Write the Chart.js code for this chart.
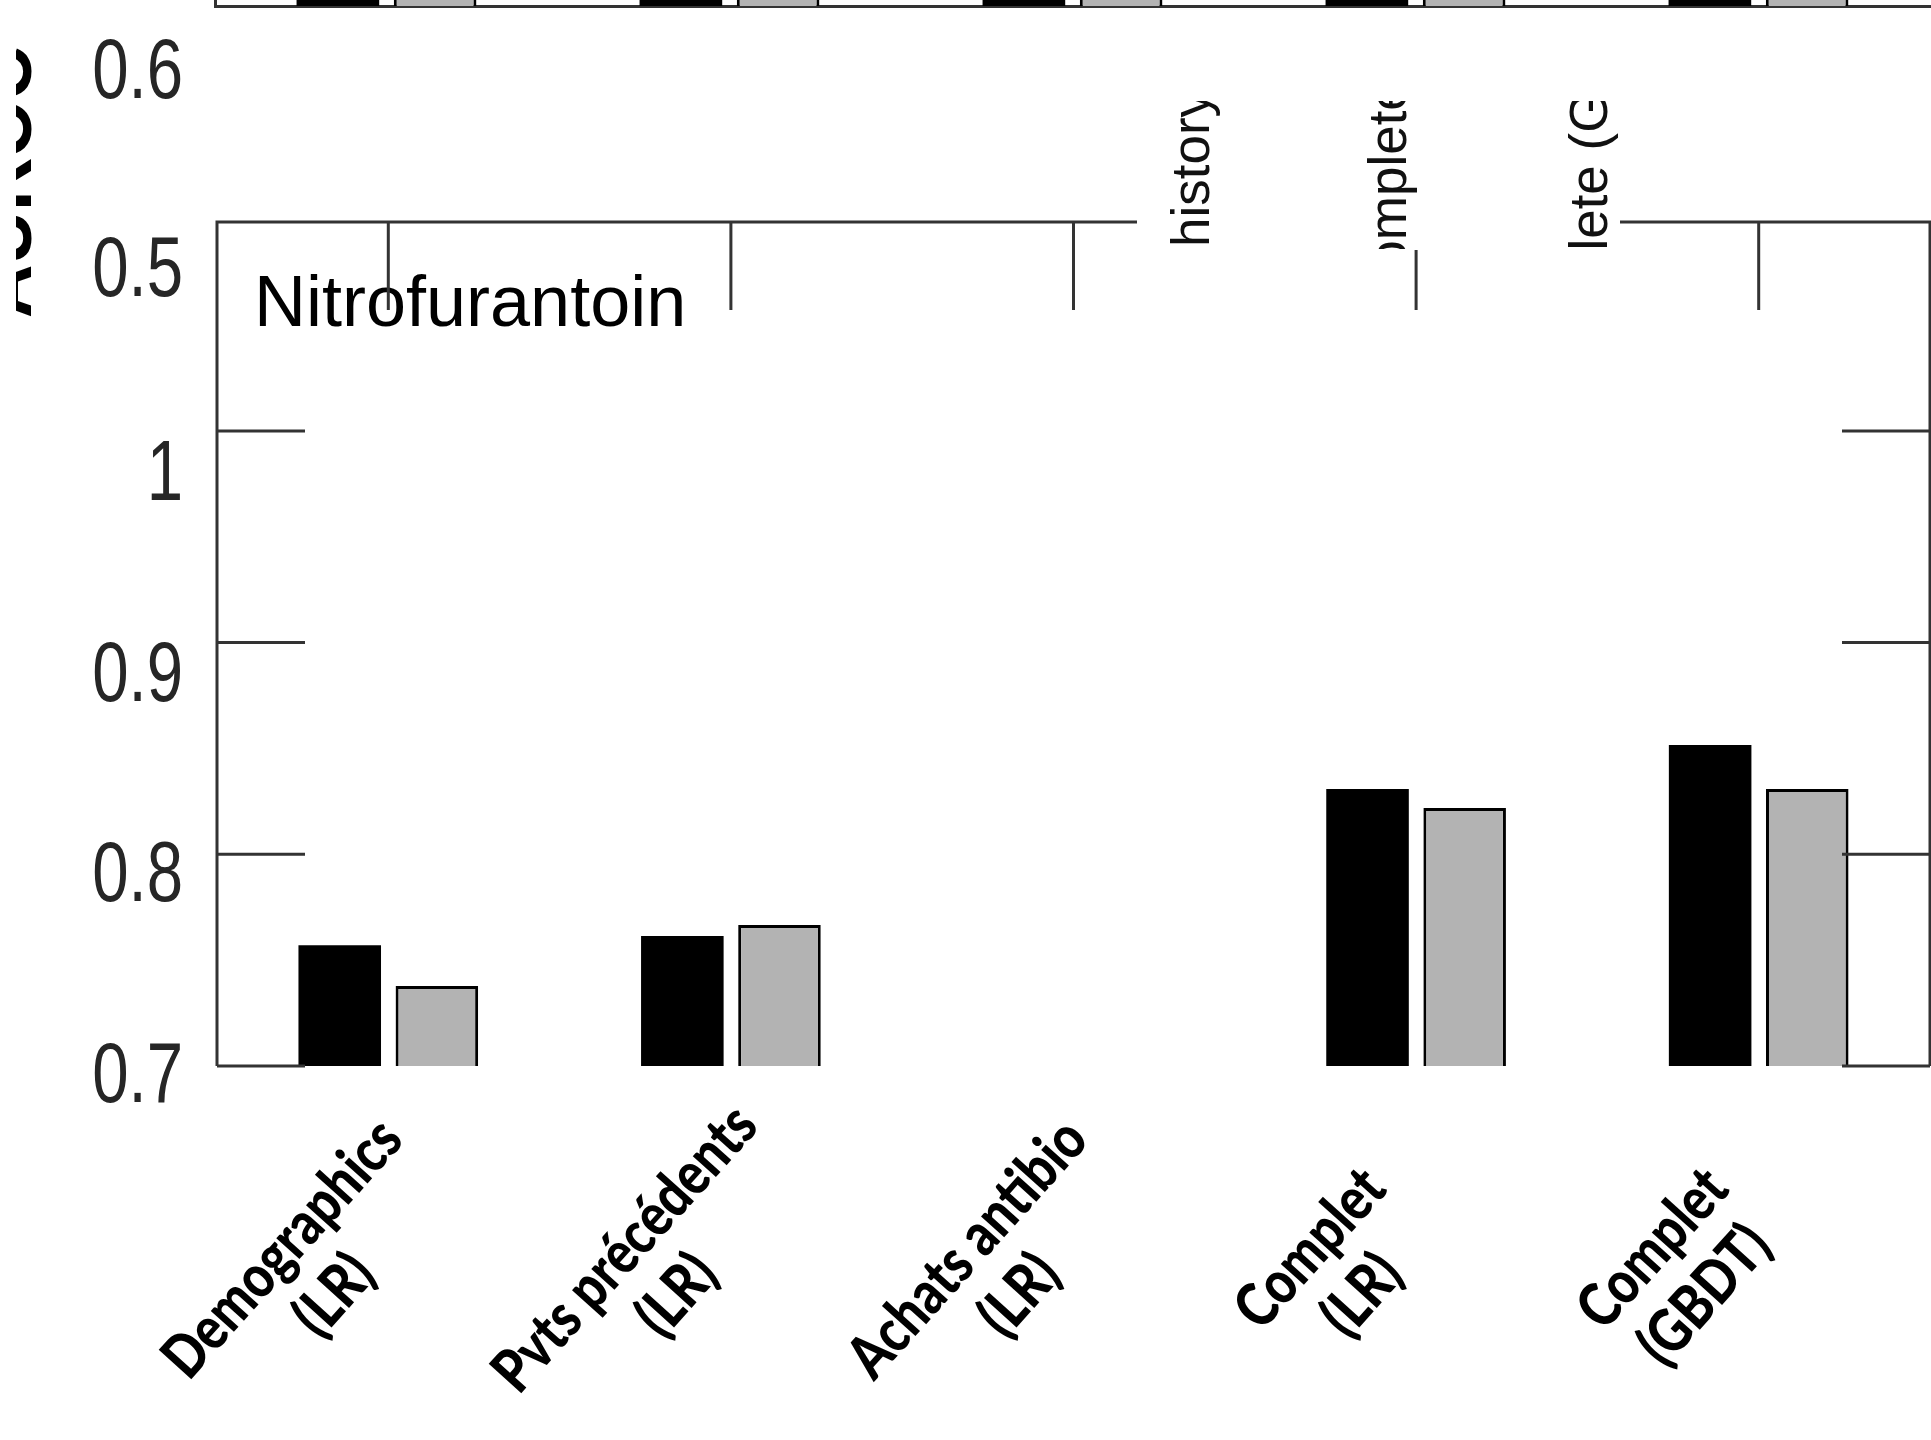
<!DOCTYPE html>
<html>
<head>
<meta charset="utf-8">
<script src="https://cdn.jsdelivr.net/npm/chart.js@4.4.1/dist/chart.umd.min.js"></script>
<style>
html, body { margin: 0; padding: 0; background: #fff; overflow: hidden; }
#wrap { position: relative; width: 1931px; height: 1440px; }
#chart, #strip { position: absolute; left: 0; top: 0; }
</style>
</head>
<body>
<div id="wrap">
<canvas id="chart" width="1931" height="1440"></canvas>
<canvas id="strip" width="1931" height="8"></canvas>
</div>
<script>
// main panel
var categories = [["Demographics", "(LR)"], ["Pvts précédents", "(LR)"], ["Achats antibio", "(LR)"], ["Complet", "(LR)"], ["Complet", "(GBDT)"]];
var blackValues = [0.757, 0.7614, null, 0.8308, 0.8516];
var grayValues = [0.7378, 0.7666, null, 0.8219, 0.8308];
var yTicks = [0.7, 0.8, 0.9, 1];
var panelTitle = "Nitrofurantoin";

// bits of the panel above, cut off by the picture
var upperTickLabels = ["0.6", "0.5"];
var upperBlack = [0.8, 0.8, 0.8, 0.85, 0.86];
var upperGray = [0.78, 0.8, 0.79, 0.84, 0.85];
var upperXLabels = ["history (LR)", "Complete (LR)", "Complete (GBDT)"];
var upperYTitle = "AUROC";

var lineColor = '#333';
var tickFont = '"Liberation Sans", Arial, sans-serif';

// squeezed tick label, like the stretched picture
function narrowText(ctx, t, x, y) {
    ctx.save();
    ctx.translate(x, y);
    ctx.scale(0.76, 1);
    ctx.fillText(t, 0, 0);
    ctx.restore();
}

var frame = {
    id: 'frame',
    afterDraw: function (c) {
        var ctx = c.ctx, a = c.chartArea, y = c.scales.y, x = c.scales.x, yl = c.scales.yLab;
        var tick = 88;
        ctx.save();

        // title inside the box
        ctx.fillStyle = '#000';
        ctx.font = '72px "Liberation Sans", Arial, sans-serif';
        ctx.textAlign = 'left';
        ctx.textBaseline = 'alphabetic';
        ctx.fillText(panelTitle, a.left + 37, a.top + 104);

        // box and inward ticks
        ctx.strokeStyle = lineColor;
        ctx.lineWidth = 3;
        ctx.beginPath();
        ctx.moveTo(a.left, a.bottom); ctx.lineTo(a.left, a.top);
        ctx.lineTo(a.right, a.top); ctx.lineTo(a.right, a.bottom);
        yTicks.forEach(function (v) {
            var p = y.getPixelForValue(v);
            ctx.moveTo(a.left, p); ctx.lineTo(a.left + tick, p);
            ctx.moveTo(a.right, p); ctx.lineTo(a.right - tick, p);
        });
        categories.forEach(function (lab, i) {
            var p = x.getPixelForValue(i);
            ctx.moveTo(p, a.top); ctx.lineTo(p, a.top + tick);
        });
        ctx.stroke();

        // y tick labels (main and upper panel)
        ctx.font = '86px ' + tickFont;
        ctx.fillStyle = '#262626';
        ctx.textAlign = 'right';
        ctx.textBaseline = 'middle';
        yTicks.forEach(function (v) {
            narrowText(ctx, String(v), 183, yl.getPixelForValue(v));
        });
        narrowText(ctx, upperTickLabels[0], 183, 74);
        narrowText(ctx, upperTickLabels[1], 183, 272);

        // category labels, two centred lines turned a bit past 45 degrees
        ctx.font = '900 54px Lato, "Open Sans", sans-serif';
        ctx.fillStyle = '#000';
        ctx.textAlign = 'center';
        ctx.textBaseline = 'middle';
        categories.forEach(function (lines, i) {
            var p = x.getPixelForValue(i);
            ctx.save();
            ctx.translate(p - 80, a.bottom + 206);
            ctx.rotate(-48 * Math.PI / 180);
            ctx.scale(0.93, 1.12);
            lines.forEach(function (t, k) {
                ctx.fillText(t, 0, (k - (lines.length - 1) / 2) * 62);
            });
            ctx.restore();
        });

        // upper panel axis title, cut at the left edge
        ctx.save();
        ctx.beginPath();
        ctx.rect(16, 0, 30, 340);
        ctx.clip();
        ctx.font = 'bold 74px "Liberation Sans", Arial, sans-serif';
        ctx.fillStyle = '#000';
        ctx.textAlign = 'left';
        ctx.textBaseline = 'alphabetic';
        ctx.translate(31, 318);
        ctx.rotate(-Math.PI / 2);
        ctx.fillText(upperYTitle, 0, 0);
        ctx.restore();

        // upper panel x labels showing through a white patch
        ctx.save();
        ctx.fillStyle = '#fff';
        ctx.fillRect(1137, 98, 483, 152);
        ctx.beginPath();
        ctx.rect(1137, 101, 483, 148);
        ctx.clip();
        ctx.font = '53px "Liberation Sans", Arial, sans-serif';
        ctx.fillStyle = '#111';
        ctx.textAlign = 'left';
        ctx.textBaseline = 'alphabetic';
        var spots = [[1209, 247], [1406, 308], [1607, 392]];
        upperXLabels.forEach(function (t, k) {
            ctx.save();
            ctx.translate(spots[k][0], spots[k][1]);
            ctx.rotate(-Math.PI / 2);
            ctx.fillText(t, 0, 0);
            ctx.restore();
        });
        ctx.restore();

        ctx.restore();
    }
};

var chart = new Chart(document.getElementById('chart').getContext('2d'), {
    type: 'bar',
    data: {
        labels: categories,
        datasets: [{
            data: blackValues,
            backgroundColor: '#000',
            borderWidth: 0,
            categoryPercentage: 0.567,
            barPercentage: 0.85
        }, {
            data: grayValues,
            backgroundColor: '#b3b3b3',
            borderColor: '#000',
            borderWidth: 3,
            borderSkipped: 'bottom',
            categoryPercentage: 0.567,
            barPercentage: 0.85
        }]
    },
    options: {
        responsive: false,
        animation: false,
        layout: { padding: { top: 222, right: 1, left: 0, bottom: 0 } },
        plugins: { legend: { display: false }, tooltip: { enabled: false } },
        scales: {
            x: {
                ticks: { display: false },
                grid: { display: false, drawTicks: false },
                border: { display: false },
                afterFit: function (s) { s.height = 374; }
            },
            y: {
                min: 0.7, max: 1.0987,
                ticks: { display: false },
                grid: { display: false, drawTicks: false },
                border: { display: false },
                afterFit: function (s) { s.width = 0; }
            },
            // label axis: the tick labels sit a little off the tick marks
            yLab: {
                position: 'left',
                min: 0.7061, max: 1.1267,
                grid: { display: false, drawTicks: false },
                border: { display: false },
                ticks: { display: false },
                afterBuildTicks: function (s) {
                    s.ticks = yTicks.map(function (v) { return { value: v }; });
                },
                afterFit: function (s) { s.width = 217; }
            }
        }
    },
    plugins: [frame]
});

// strip: bottom of the bars of the panel above
var strip = new Chart(document.getElementById('strip').getContext('2d'), {
    type: 'bar',
    data: {
        labels: categories,
        datasets: [{
            data: upperBlack,
            backgroundColor: '#000',
            borderWidth: 0,
            categoryPercentage: 0.567,
            barPercentage: 0.85
        }, {
            data: upperGray,
            backgroundColor: '#b3b3b3',
            borderColor: '#000',
            borderWidth: 3,
            borderSkipped: 'bottom',
            categoryPercentage: 0.567,
            barPercentage: 0.85
        }]
    },
    options: {
        responsive: false,
        animation: false,
        layout: { padding: { top: 0, right: 1, left: 0, bottom: 0 } },
        plugins: { legend: { display: false }, tooltip: { enabled: false } },
        scales: {
            x: {
                ticks: { display: false },
                grid: { display: false, drawTicks: false },
                border: { color: lineColor, width: 3 },
                afterFit: function (s) { s.height = 2; }
            },
            y: {
                min: 0.5, max: 0.51,
                ticks: { display: false },
                grid: { display: false, drawTicks: false },
                border: { color: lineColor, width: 3 },
                afterFit: function (s) { s.width = 215; }
            }
        }
    }
});
</script>
</body>
</html>
